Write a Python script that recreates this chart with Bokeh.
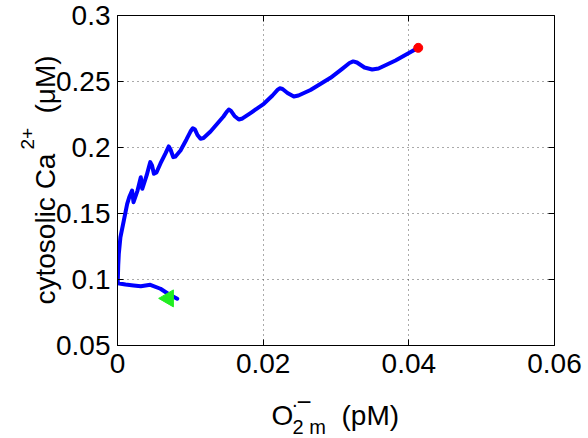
import numpy as np
from bokeh.plotting import figure
from bokeh.models import Range1d, FixedTicker, LinearAxis
from bokeh.core.properties import value
from bokeh.embed import file_html
from bokeh.resources import INLINE

# trajectory: superoxide (pM) vs cytosolic Ca2+ (uM)
o2m = [0.0082, 0.0070, 0.0059, 0.0045, 0.0032, 0.0022, 0.0011, 0.00004,
       0.00004, 0.0001, 0.00018, 0.0004, 0.00087, 0.00133, 0.00165, 0.0020,
       0.0022, 0.00275, 0.0032, 0.0034, 0.0040, 0.00433, 0.0045, 0.00474, 0.0050,
       0.00535, 0.0059, 0.00659, 0.00704, 0.00728, 0.00765, 0.00796,
       0.00865, 0.00947, 0.01002, 0.01034, 0.01064, 0.01098, 0.01140, 0.01181,
       0.01277, 0.01369, 0.01455, 0.01504, 0.01528, 0.01558, 0.01606, 0.01666,
       0.01716, 0.01826, 0.02009, 0.02128, 0.02197, 0.02228, 0.02266, 0.02334,
       0.02421, 0.02485, 0.02650, 0.02925, 0.03089, 0.03185, 0.03236, 0.03288,
       0.03391, 0.03497, 0.03584, 0.03817, 0.04129]
ca = [0.0854, 0.0890, 0.0930, 0.0960, 0.0949, 0.0955, 0.0962, 0.0972,
      0.0992, 0.1106, 0.1195, 0.1320, 0.1447, 0.1573, 0.1629, 0.1674,
      0.1586, 0.1674, 0.1775, 0.1687, 0.1788, 0.1856, 0.1889, 0.1864, 0.1801,
      0.1811, 0.1879, 0.1955, 0.2008, 0.1985, 0.1927, 0.1932,
      0.1977, 0.2061, 0.2121, 0.2146, 0.2136, 0.2095, 0.2066, 0.2072,
      0.2121, 0.2180, 0.2235, 0.2273, 0.2288, 0.2277, 0.2239, 0.2212,
      0.2220, 0.2261, 0.2331, 0.2394, 0.2436, 0.2449, 0.2443, 0.2413,
      0.2386, 0.2394, 0.2436, 0.2528, 0.2598, 0.2640, 0.2652, 0.2644,
      0.2606, 0.2591, 0.2598, 0.2659, 0.2755]
start_x = [0.0070]
start_y = [0.0857]
end_x = [0.04129]
end_y = [0.2755]

x_ticks = [0, 0.02, 0.04, 0.06]
x_tick_labels = ["0", "0.02", "0.04", "0.06"]
y_ticks = [0.05, 0.1, 0.15, 0.2, 0.25, 0.3]
y_tick_labels = ["0.05", "0.1", "0.15", "0.2", "0.25", "0.3"]

FONT = "Liberation Sans"
FS = "28px"

p = figure(width=588, height=438, x_range=Range1d(0, 0.06), y_range=Range1d(0.05, 0.3),
           output_backend="svg", toolbar_location=None,
           min_border_left=117, min_border_right=34, min_border_top=15, min_border_bottom=93)
p.background_fill_color = "white"
p.border_fill_color = "white"
p.outline_line_color = "black"
p.outline_line_width = 1

for ax, ticks, labels in ((p.xaxis[0], x_ticks, x_tick_labels), (p.yaxis[0], y_ticks, y_tick_labels)):
    ax.ticker = FixedTicker(ticks=ticks)
    ax.major_label_overrides = {t: l for t, l in zip(ticks, labels)}
    ax.major_label_text_font = FONT
    ax.major_label_text_font_size = FS
    ax.major_label_text_color = "black"
    ax.major_tick_in = 6
    ax.major_tick_out = 0
    ax.minor_tick_line_color = None
    ax.axis_line_color = "black"
    ax.major_tick_line_color = "black"
p.xaxis[0].major_label_standoff = 8
p.yaxis[0].major_label_standoff = 7

# mirrored inward ticks on the top and right sides (no labels)
top = LinearAxis(ticker=FixedTicker(ticks=x_ticks), major_label_text_font_size="1px",
                 major_label_text_color=None, major_label_text_alpha=0,
                 major_tick_in=6, major_tick_out=0, minor_tick_line_color=None,
                 axis_line_color=None, major_label_standoff=0)
right = LinearAxis(ticker=FixedTicker(ticks=y_ticks), major_label_text_font_size="1px",
                   major_label_text_color=None, major_label_text_alpha=0,
                   major_tick_in=6, major_tick_out=0, minor_tick_line_color=None,
                   axis_line_color=None, major_label_standoff=0)
p.add_layout(top, "above")
p.add_layout(right, "right")

p.grid.grid_line_color = "#555555"
p.grid.grid_line_dash = "1 4"
p.grid.grid_line_width = 1

p.line(o2m, ca, line_color="#0000ff", line_width=4, line_join="round", line_cap="round")
p.scatter(start_x, start_y, marker="triangle", angle=np.pi / 2, size=17,
          fill_color="#22ee22", line_color="#22ee22")
p.scatter(end_x, end_y, marker="circle", size=9, fill_color="#ff0000", line_color="#ff0000")

# axis titles as text pieces, anchored at the frame's lower-left corner (0, 0.05)
def lab(text, dx, dy, size, angle=0.0):
    p.text(x=[x_ticks[0]], y=[y_ticks[0]], text=[text], x_offset=dx, y_offset=dy,
           angle=angle, text_font=value(FONT), text_font_size=value(size),
           text_color="black", text_align="left", text_baseline="alphabetic",
           level="overlay")

# x: O2m superoxide (pM)
lab("O", 154, 70, FS)
lab("\u00b7", 174, 58, "20px")
lab("\u2212", 179, 56, "26px")
lab("2 m", 175, 81, "20px")
lab("(pM)", 224, 70, FS)

# y: cytosolic Ca2+ (uM)
lab("cytosolic Ca", -72, -41, FS, np.pi / 2)
lab("2+", -90, -196, "19px", np.pi / 2)
lab("(\u03bcM)", -72, -232, FS, np.pi / 2)

open("out.html", "w").write(file_html(p, INLINE))
